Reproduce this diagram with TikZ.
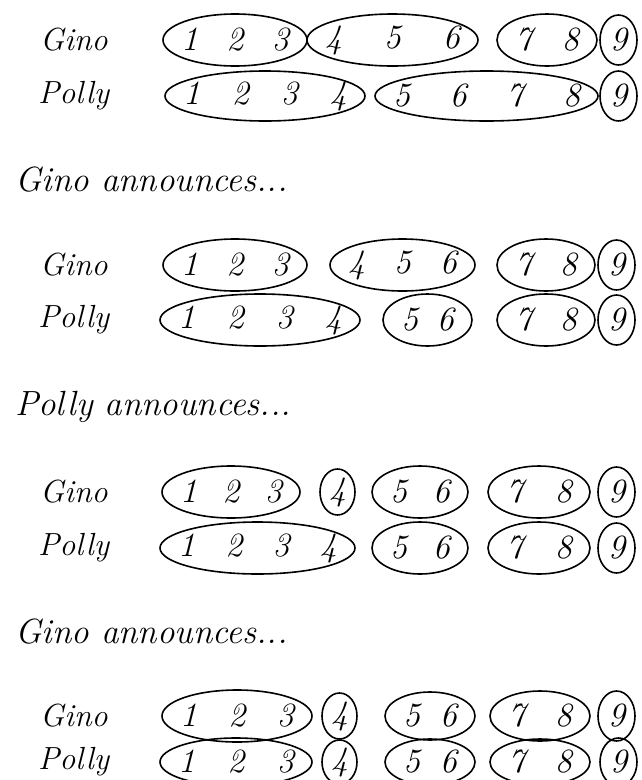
\documentclass[tikz,border=0pt]{standalone}
\usetikzlibrary{shapes.geometric}
\tikzset{
  grp/.style={draw, ellipse, line width=1.6pt, inner sep=0pt, font=\fontsize{34}{36}\selectfont\itshape},
  who/.style={anchor=west, inner sep=0pt, font=\fontsize{32}{34}\selectfont\itshape},
  head/.style={anchor=west, inner sep=0pt, font=\fontsize{35}{37}\selectfont\itshape}
}
% #1 name, #2 left x, #3 right x, #4 centre y, #5 height, #6 digits
\newcommand\grp[6]{%
  \node[grp, minimum width={(#3-#2)*1pt}, minimum height=#5pt] (#1) at ({(#2+#3)/2},#4)
    {\makebox[0pt]{\makebox[\dimexpr #3pt-#2pt-36pt\relax]{#6}}};}
\begin{document}
\begin{tikzpicture}[x=1pt,y=-1pt]
\useasboundingbox (0,0) rectangle (642,780);
% ---------- block 1
\node[who] (g1) at (40,40) {Gino};
\node[who] (p1) at (38,96) {Polly};
\grp{g1a}{163}{307}{40}{52}{1\hfill2\hfill3}
\grp{g1b}{307}{478}{40}{52}{4\hfill5\hfill6}
\grp{g1c}{497}{597}{40}{52}{7\hfill8}
\grp{g1d}{600}{637}{40}{50}{9}
\grp{p1a}{165}{365}{96}{50}{1\hfill2\hfill3\hfill4}
\grp{p1b}{375}{598}{96}{50}{5\hfill6\hfill7\hfill8}
\grp{p1d}{600}{637}{96}{50}{9}
\node[head] (h1) at (15,180) {Gino announces...};
% ---------- block 2
\node[who] (g2) at (40,265) {Gino};
\node[who] (p2) at (38,320) {Polly};
\grp{g2a}{163}{307}{265}{52}{1\hfill2\hfill3}
\grp{g2b}{330}{475}{265}{52}{4\hfill5\hfill6}
\grp{g2c}{497}{595}{265}{52}{7\hfill8}
\grp{g2d}{598}{635}{265}{50}{9}
\grp{p2a}{160}{360}{320}{52}{1\hfill2\hfill3\hfill4}
\grp{p2b}{383}{472}{320}{52}{5\hfill6}
\grp{p2c}{497}{595}{320}{52}{7\hfill8}
\grp{p2d}{598}{635}{320}{50}{9}
\node[head] (h2) at (15,407) {Polly announces...};
% ---------- block 3
\node[who] (g3) at (40,492) {Gino};
\node[who] (p3) at (38,548) {Polly};
\grp{g3a}{162}{300}{492}{52}{1\hfill2\hfill3}
\grp{g3b}{320}{355}{492}{46}{4}
\grp{g3c}{372}{468}{492}{52}{5\hfill6}
\grp{g3d}{488}{590}{492}{52}{7\hfill8}
\grp{g3e}{598}{635}{492}{50}{9}
\grp{p3a}{160}{355}{548}{52}{1\hfill2\hfill3\hfill4}
\grp{p3b}{372}{468}{548}{52}{5\hfill6}
\grp{p3c}{488}{590}{548}{52}{7\hfill8}
\grp{p3d}{598}{635}{548}{50}{9}
\node[head] (h3) at (15,632) {Gino announces...};
% ---------- block 4
\node[who] (g4) at (40,716) {Gino};
\node[who] (p4) at (38,762) {Polly};
\grp{g4a}{162}{312}{716}{52}{1\hfill2\hfill3}
\grp{g4b}{322}{357}{716}{46}{4}
\grp{g4c}{385}{475}{716}{48}{5\hfill6}
\grp{g4d}{490}{590}{716}{50}{7\hfill8}
\grp{g4e}{598}{635}{716}{50}{9}
\grp{p4a}{160}{312}{762}{48}{1\hfill2\hfill3}
\grp{p4b}{322}{357}{762}{44}{4}
\grp{p4c}{385}{475}{762}{46}{5\hfill6}
\grp{p4d}{490}{590}{762}{46}{7\hfill8}
\grp{p4e}{600}{637}{762}{48}{9}
\end{tikzpicture}
\end{document}
